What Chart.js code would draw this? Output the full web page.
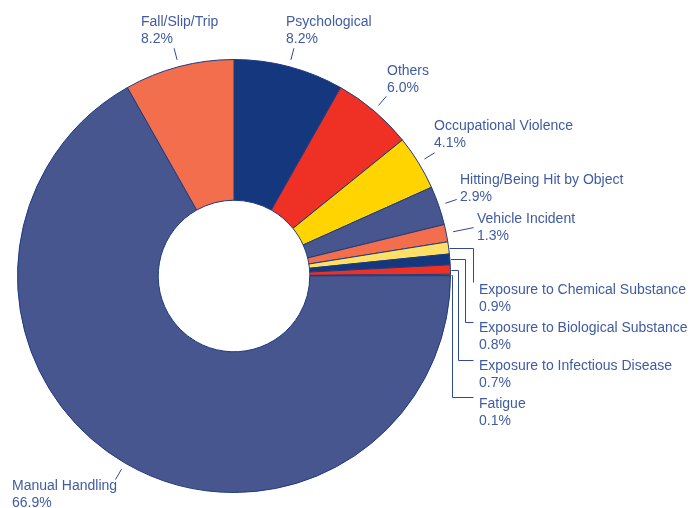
<!DOCTYPE html>
<html>
<head>
<meta charset="utf-8">
<script src="https://cdn.jsdelivr.net/npm/chart.js@4.4.0/dist/chart.umd.min.js"></script>
<style>
html,body{margin:0;padding:0;background:#fff;}
#wrap{width:691px;height:508px;}
</style>
</head>
<body>
<div id="wrap"><canvas id="c" width="691" height="508"></canvas></div>
<script>
const categories = ["Psychological","Others","Occupational Violence","Hitting/Being Hit by Object","Vehicle Incident","Exposure to Chemical Substance","Exposure to Biological Substance","Exposure to Infectious Disease","Fatigue","Manual Handling","Fall/Slip/Trip"];
const values = [8.2, 6.0, 4.1, 2.9, 1.3, 0.9, 0.8, 0.7, 0.1, 66.9, 8.2];
const valueLabels = ["8.2%","6.0%","4.1%","2.9%","1.3%","0.9%","0.8%","0.7%","0.1%","66.9%","8.2%"];
const colors = ["#14377d","#ee3124","#ffd400","#48568f","#f26e4c","#ffe066","#14377d","#ee3124","#ffd400","#48568f","#f26e4c"];

// label layout: text anchor (left, first baseline) and leader style
const labelLayout = [
  {tx:286, ty:26, type:"radial", r0:7, r1:19},
  {tx:387, ty:75, type:"radial", r0:7, r1:19},
  {tx:434, ty:130, type:"radial", r0:7, r1:19},
  {tx:460, ty:184, type:"radial", r0:7, r1:19},
  {tx:477, ty:223, type:"radial", r0:7, r1:28},
  {tx:479, ty:294, type:"elbow", ex:473, ey:282, endX:473},
  {tx:479, ty:332, type:"elbow", ex:465, ey:322, endX:473},
  {tx:479, ty:370, type:"elbow", ex:458, ey:360, endX:473},
  {tx:479, ty:408, type:"elbow", ex:452, ey:397, endX:473},
  {tx:12, ty:490, type:"radial", r0:7, r1:19},
  {tx:141, ty:26, type:"radial", r0:7, r1:19}
];

const textColor = "#3f5ba2";
const lineColor = "#2f4a92";

const labelPlugin = {
  id: "labels",
  afterDatasetsDraw(chart) {
    const ctx = chart.ctx;
    const meta = chart.getDatasetMeta(0);
    ctx.save();
    ctx.strokeStyle = lineColor;
    ctx.lineWidth = 1;
    ctx.fillStyle = textColor;
    ctx.font = "14px 'Liberation Sans', Arial, sans-serif";
    ctx.textBaseline = "alphabetic";
    ctx.textAlign = "left";
    meta.data.forEach((arc, i) => {
      const p = arc.getProps(["x","y","startAngle","endAngle","outerRadius"], true);
      const mid = (p.startAngle + p.endAngle) / 2;
      const L = labelLayout[i];
      ctx.beginPath();
      if (L.type === "radial") {
        const a = p.outerRadius + L.r0, b = p.outerRadius + L.r1;
        ctx.moveTo(p.x + Math.cos(mid)*a, p.y + Math.sin(mid)*a);
        ctx.lineTo(p.x + Math.cos(mid)*b, p.y + Math.sin(mid)*b);
      } else {
        const sx = p.x + Math.cos(mid)*(p.outerRadius+1);
        const sy = Math.round(p.y + Math.sin(mid)*(p.outerRadius+1)) + 0.5;
        const ex = L.ex + 0.5;
        ctx.moveTo(sx, sy);
        ctx.lineTo(ex, sy);
        ctx.lineTo(ex, L.ey + 0.5);
        ctx.lineTo(L.endX + 0.5, L.ey + 0.5);
      }
      ctx.stroke();
      ctx.fillText(categories[i], L.tx, L.ty);
      ctx.fillText(valueLabels[i], L.tx, L.ty + 17);
    });
    ctx.restore();
  }
};

new Chart(document.getElementById("c"), {
  type: "doughnut",
  data: {
    labels: categories,
    datasets: [{
      data: values,
      backgroundColor: colors,
      borderColor: "#1d3a80",
      borderWidth: 1,
      hoverOffset: 0
    }]
  },
  options: {
    responsive: false,
    animation: false,
    devicePixelRatio: 1,
    cutout: "35%",
    layout: { padding: { left: 17, right: 240, top: 59, bottom: 15 } },
    plugins: { legend: { display: false }, tooltip: { enabled: false } }
  },
  plugins: [labelPlugin]
});
</script>
</body>
</html>
